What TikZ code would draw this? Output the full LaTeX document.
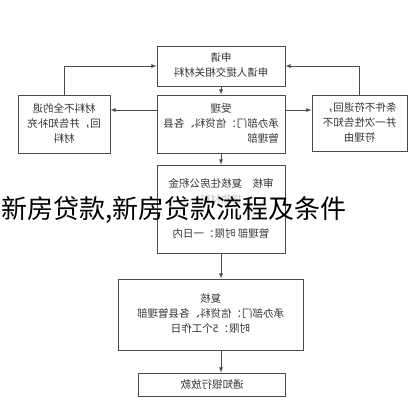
\documentclass[tikz,border=0pt]{standalone}
\usepackage{fontspec}
\usepackage{graphicx}
\newfontfamily\cjk{Noto Sans CJK SC}
\newcommand{\mirror}[1]{\reflectbox{#1}}
\definecolor{linegray}{HTML}{4A4A4A}
\definecolor{textgray}{HTML}{333333}

\begin{document}
\begin{tikzpicture}[x=1pt, y=-1pt,
  box/.style={draw=linegray, line width=0.9pt, inner sep=0pt, align=center,
    text=textgray, font=\cjk\fontsize{10.5}{15}\selectfont},
  arr/.style={draw=linegray, line width=0.8pt, -latex}]
  \useasboundingbox (0,0) rectangle (414,400);

  % the flow chart, printed mirrored
  \node[box, minimum width=128, minimum height=40] (apply) at (221,66)
    {\mirror{\begin{tabular}{@{}c@{}}申请\\申请人提交相关材料\end{tabular}}};
  \node[box, minimum width=128, minimum height=58] (accept) at (221,124)
    {\mirror{\begin{tabular}{@{}l@{}}\multicolumn{1}{@{}c@{}}{受理}\\承办部门：信贷科、各县\\管理部\end{tabular}}};
  \node[box, minimum width=92, minimum height=58] (back) at (64,124)
    {\mirror{\begin{tabular}{@{}c@{}}材料不全的退\\回，并告知补充\\材料\end{tabular}}};
  \node[box, minimum width=95, minimum height=56] (refuse) at (359.5,123)
    {\mirror{\begin{tabular}{@{}c@{}}条件不符退回，\\并一次性告知不\\符理由\end{tabular}}};
  \node[box, minimum width=128, minimum height=88] (check) at (221,209)
    {\mirror{\begin{tabular}{@{}c@{}}审核\quad 复核住房公积金\\[1pt]\textcolor{gray!45}{贷款材料}\\[2pt] \\[2pt]管理部\ 时限：一日内\end{tabular}}};
  \node[box, minimum width=185, minimum height=71] (recheck) at (210.5,314.5)
    {\mirror{\begin{tabular}{@{}c@{}}复核\\承办部门：信贷科、各县管理部\\时限：5个工作日\end{tabular}}};
  \node[box, minimum width=147, minimum height=23] (loan) at (212,384.5)
    {\mirror{通知银行放款}};

  \draw[arr] (apply) -- (accept);
  \draw[arr] (back.north) |- (apply.west);
  \draw[arr] (refuse.north) |- (apply.east);
  \draw[arr] ([yshift=14pt]accept.west) -- ([yshift=14pt]accept.west -| back.east);
  \draw[arr] ([yshift=14pt]accept.east) -- ([yshift=14pt]accept.east -| refuse.west);
  \draw[arr] (accept) -- (check);
  \draw[arr] (check.south) -- (check.south |- recheck.north);
  \draw[arr] (recheck.south -| check.south) -- (check.south |- loan.north);

  % caption laid over the chart
  \node[anchor=west, inner sep=0pt, font=\cjk\fontsize{26}{26}\selectfont] (caption) at (1,210)
    {新房贷款,新房贷款流程及条件};
\end{tikzpicture}
\end{document}
